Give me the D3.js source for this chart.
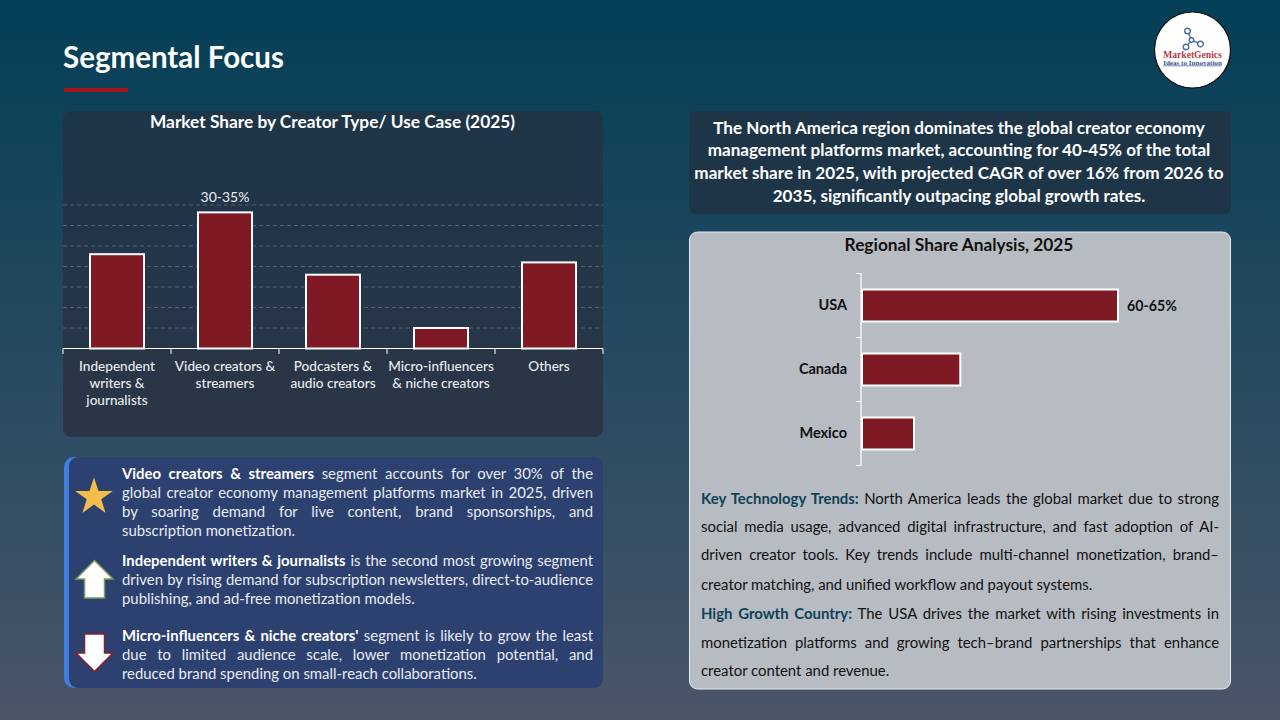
<!DOCTYPE html>
<html>
<head>
<meta charset="utf-8">
<script src="https://cdn.jsdelivr.net/npm/d3@7"></script>
<style>
  html, body { margin: 0; padding: 0; background: #04405a; }
  svg { display: block; font-family: Lato, "Open Sans", sans-serif; }
</style>
</head>
<body>
<svg id="chart" width="1280" height="720"></svg>
<script>
// values (% share)
const creatorTypes = ['Independent writers & journalists', 'Video creators & streamers', 'Podcasters & audio creators', 'Micro-influencers & niche creators', 'Others'];
const creatorLabels = [['Independent', 'writers &', 'journalists'], ['Video creators &', 'streamers'], ['Podcasters &', 'audio creators'], ['Micro-influencers', '& niche creators'], ['Others']];
const creatorShare = [23, 33.2, 18, 5, 21];
const creatorTicks = [5, 10, 15, 20, 25, 30, 35];
const countries = ['USA', 'Canada', 'Mexico'];
const countryShare = [62.5, 24, 12.7];

const summaryLines = [
  'The North America region dominates the global creator economy',
  'management platforms market, accounting for 40-45% of the total',
  'market share in 2025, with projected CAGR of over 16% from 2026 to',
  '2035, significantly outpacing global growth rates.'
];
const segmentNotes = [
  { y: 479, lines: [
    [['Video creators & streamers', 1], [' segment accounts for over 30% of the', 0]],
    [['global creator economy management platforms market in 2025, driven', 0]],
    [['by soaring demand for live content, brand sponsorships, and', 0]],
    [['subscription monetization.', 0]] ] },
  { y: 566, lines: [
    [['Independent writers & journalists', 1], [' is the second most growing segment', 0]],
    [['driven by rising demand for subscription newsletters, direct-to-audience', 0]],
    [['publishing, and ad-free monetization models.', 0]] ] },
  { y: 641, lines: [
    [["Micro-influencers & niche creators'", 1], [' segment is likely to grow the least', 0]],
    [['due to limited audience scale, lower monetization potential, and', 0]],
    [['reduced brand spending on small-reach collaborations.', 0]] ] }
];
const trendLines = [
  [['Key Technology Trends:', 2], [' North America leads the global market due to strong', 0]],
  [['social media usage, advanced digital infrastructure, and fast adoption of AI-', 0]],
  [['driven creator tools. Key trends include multi-channel monetization, brand\u2013', 0]],
  [['creator matching, and unified workflow and payout systems.', 0]],
  [['High Growth Country:', 2], [' The USA drives the market with rising investments in', 0]],
  [['monetization platforms and growing tech\u2013brand partnerships that enhance', 0]],
  [['creator content and revenue.', 0]]
];
const trendY = [504, 532, 560, 590, 619, 648, 676];
const lastLines = ['subscription monetization.', 'publishing, and ad-free monetization models.', 'reduced brand spending on small-reach collaborations.',
  'creator matching, and unified workflow and payout systems.', 'creator content and revenue.'];

const svg = d3.select('#chart');
const defs = svg.append('defs');

const bgGrad = defs.append('linearGradient').attr('id', 'bg').attr('x1', 0).attr('y1', 0).attr('x2', 0).attr('y2', 1);
bgGrad.append('stop').attr('offset', '0%').attr('stop-color', '#033f57');
bgGrad.append('stop').attr('offset', '100%').attr('stop-color', '#4a5568');

const panelGrad = defs.append('linearGradient').attr('id', 'panel').attr('x1', 0).attr('y1', 0).attr('x2', 0).attr('y2', 1);
panelGrad.append('stop').attr('offset', '0%').attr('stop-color', '#1e3548');
panelGrad.append('stop').attr('offset', '100%').attr('stop-color', '#2b3648');

svg.append('rect').attr('width', 1280).attr('height', 720).attr('fill', 'url(#bg)');

// heading
svg.append('text').attr('x', 63).attr('y', 68).attr('fill', '#fff')
  .attr('font-size', 29.5).attr('font-weight', 700).text('Segmental Focus');
svg.append('rect').attr('x', 64).attr('y', 88).attr('width', 64).attr('height', 4).attr('fill', '#a8141c');

// logo
const logo = svg.append('g').attr('transform', 'translate(1192.5,50)');
logo.append('circle').attr('r', 38).attr('fill', '#fff').attr('stroke', '#111').attr('stroke-width', 1.2);
const hub = [-1, -10];
const nodes = [[-5, -19], [8, -6], [-6.5, -3]];
logo.selectAll('line').data(nodes).join('line')
  .attr('x1', hub[0]).attr('y1', hub[1]).attr('x2', d => d[0]).attr('y2', d => d[1])
  .attr('stroke', '#5a7ba5').attr('stroke-width', 1.5);
logo.selectAll('circle.n').data(nodes.concat([hub])).join('circle').attr('class', 'n')
  .attr('cx', d => d[0]).attr('cy', d => d[1]).attr('r', d => d === hub ? 2.2 : 2.8)
  .attr('fill', '#fff').attr('stroke', '#4f6f9a').attr('stroke-width', 1.4);
logo.append('text').attr('y', 8).attr('text-anchor', 'middle').attr('fill', '#b23a48')
  .attr('font-family', '"Liberation Serif"').attr('font-weight', 700).attr('font-size', 9.6).text('MarketGenics');
logo.append('text').attr('y', 14.5).attr('text-anchor', 'middle').attr('fill', '#3a5590')
  .attr('font-family', '"Liberation Serif"').attr('font-weight', 700).attr('font-size', 7.1).attr('text-decoration', 'underline').text('Ideas to Innovation');

// panels
svg.append('rect').attr('x', 63).attr('y', 111).attr('width', 540).attr('height', 326).attr('rx', 8).attr('fill', 'url(#panel)');
svg.append('rect').attr('x', 689).attr('y', 111).attr('width', 542).attr('height', 103).attr('rx', 6).attr('fill', '#1e3548');
svg.append('rect').attr('x', 689.5).attr('y', 232).attr('width', 541).attr('height', 457).attr('rx', 8)
  .attr('fill', '#b7bbc2').attr('stroke', '#e8eaee').attr('stroke-width', 1);
svg.append('rect').attr('x', 64).attr('y', 457).attr('width', 60).attr('height', 231).attr('rx', 10).attr('fill', '#3f7fe0');
svg.append('rect').attr('x', 69).attr('y', 457).attr('width', 534).attr('height', 231).attr('rx', 9).attr('fill', '#2d4170');

// column chart
svg.append('text').attr('x', 332.5).attr('y', 128).attr('text-anchor', 'middle').attr('fill', '#fff')
  .attr('font-size', 17.3).attr('font-weight', 700).text('Market Share by Creator Type/ Use Case (2025)');

const x = d3.scaleBand().domain(creatorTypes).range([63, 603]).paddingInner(0.5).paddingOuter(0.25);
const y = d3.scaleLinear().domain([0, 35]).range([348.5, 205]);

svg.append('g').selectAll('line').data(creatorTicks).join('line')
  .attr('x1', 63).attr('x2', 603).attr('y1', d => y(d)).attr('y2', d => y(d))
  .attr('stroke', '#5b6f80').attr('stroke-width', 0.8).attr('stroke-dasharray', '4 3');

svg.append('g').selectAll('rect').data(creatorShare).join('rect')
  .attr('x', (d, i) => x(creatorTypes[i]))
  .attr('y', d => y(d))
  .attr('width', x.bandwidth())
  .attr('height', d => y(0) - y(d))
  .attr('fill', '#7f1a24').attr('stroke', '#fff').attr('stroke-width', 2);

const xMid = i => x(creatorTypes[i]) + x.bandwidth() / 2;

svg.append('text').attr('x', xMid(1)).attr('y', 202).attr('text-anchor', 'middle')
  .attr('fill', '#e8ecef').attr('font-size', 14).text('30-35%');

svg.append('path').attr('fill', 'none').attr('stroke', '#fff').attr('stroke-width', 1)
  .attr('d', 'M' + d3.range(6).map(i => `${63 + i * x.step()},354V348.5`).join('M') + `M63,348.5H603`);

creatorLabels.forEach((ls, i) => {
  ls.forEach((l, j) => {
    svg.append('text').attr('x', xMid(i)).attr('y', 371 + j * 17)
      .attr('text-anchor', 'middle').attr('fill', '#e8ecef').attr('font-size', 13.6).attr('font-weight', 500).text(l);
  });
});

// summary
summaryLines.forEach((l, i) => {
  svg.append('text').attr('x', 959).attr('y', 133.5 + i * 22.7).attr('text-anchor', 'middle').attr('fill', '#fff')
    .attr('font-size', 17.1).attr('font-weight', 700).text(l);
});

// regional bars
svg.append('text').attr('x', 959).attr('y', 251).attr('text-anchor', 'middle').attr('fill', '#111')
  .attr('font-size', 17.3).attr('font-weight', 700).text('Regional Share Analysis, 2025');

const by = d3.scaleBand().domain(countries).range([273.5, 465.5]).paddingInner(0.5).paddingOuter(0.25);
const bx = d3.scaleLinear().domain([0, 62.5]).range([862, 1118]);

svg.append('g').selectAll('rect').data(countryShare).join('rect')
  .attr('x', bx(0))
  .attr('y', (d, i) => by(countries[i]))
  .attr('width', d => bx(d) - bx(0))
  .attr('height', by.bandwidth())
  .attr('fill', '#7f1a24').attr('stroke', '#fff').attr('stroke-width', 2);

const tickYs = d3.range(4).map(i => 273.5 + i * by.step());
svg.append('path').attr('fill', 'none').attr('stroke', '#fff').attr('stroke-width', 1.2)
  .attr('d', 'M861,273.5V465.5' + tickYs.map(t => `M856,${t}H861`).join(''));

countries.forEach(c => {
  svg.append('text').attr('x', 847).attr('y', by(c) + by.bandwidth() / 2 + 4.5).attr('text-anchor', 'end')
    .attr('fill', '#111').attr('font-size', 14.5).attr('font-weight', 700).text(c);
});
svg.append('text').attr('x', 1127).attr('y', 311).attr('fill', '#111').attr('font-size', 14.2).attr('font-weight', 700).text('60-65%');

// justified text, spreads the gaps so the line fills the box
function drawLine(runs, lx, ly, width, size, colors) {
  const t = svg.append('text').attr('x', lx).attr('y', ly).attr('font-size', size).attr('xml:space', 'preserve');
  runs.forEach(r => {
    t.append('tspan').attr('fill', colors[r[1]]).attr('font-weight', r[1] ? 700 : 400).text(r[0]);
  });
  const full = runs.map(r => r[0]).join('');
  if (!lastLines.includes(full)) {
    const gaps = full.split(' ').length - 1;
    const extra = (width - t.node().getComputedTextLength()) / gaps;
    t.attr('word-spacing', extra);
  }
}

segmentNotes.forEach(n => {
  n.lines.forEach((runs, i) => drawLine(runs, 122, n.y + i * 19, 471, 14.9, ['#e8ecf2', '#fff']));
});
trendLines.forEach((runs, i) => drawLine(runs, 701, trendY[i], 518, 14.9, ['#111', '#111', '#0d4257']));

// icons
svg.append('path').attr('d', d3.symbol(d3.symbolStar, 440)()).attr('transform', 'translate(94,497)').attr('fill', '#f2bd4b');

const arrowUp = [[0, -18.5], [18.5, 0], [10, 0], [10, 19], [-10, 19], [-10, 0], [-18.5, 0]];
svg.append('path').attr('d', d3.line()(arrowUp) + 'Z').attr('transform', 'translate(94.5,579)')
  .attr('fill', '#fff').attr('stroke', '#7a9c5c').attr('stroke-width', 1.5);
svg.append('path').attr('d', d3.line()(arrowUp) + 'Z').attr('transform', 'translate(94.5,653) rotate(180)')
  .attr('fill', '#fff').attr('stroke', '#8a1f2c').attr('stroke-width', 1.5);
</script>
</body>
</html>
